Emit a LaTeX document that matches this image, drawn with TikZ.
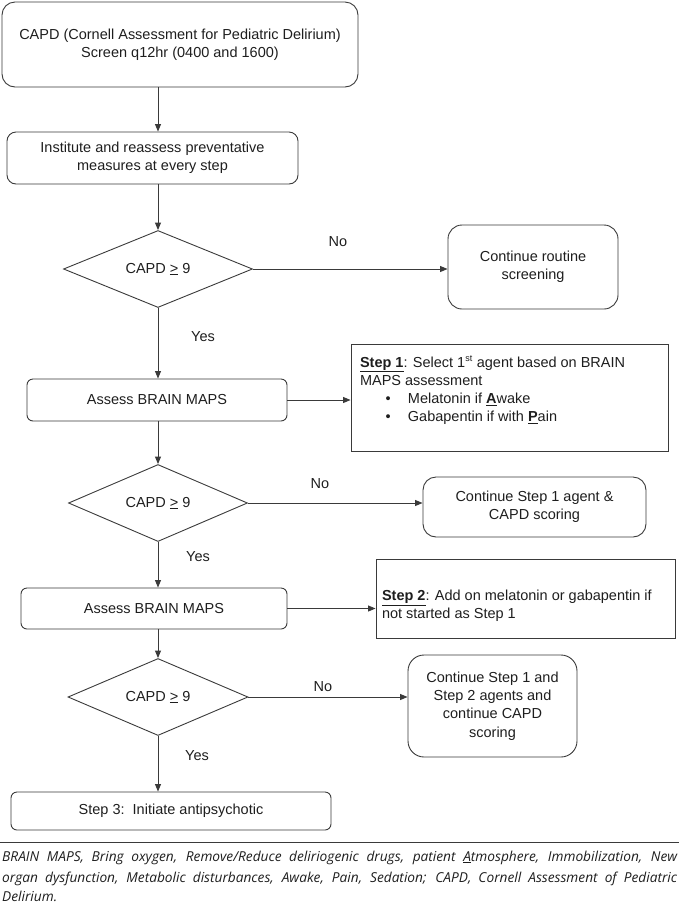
\documentclass[tikz,border=0pt]{standalone}
\usepackage{fontspec}
\setmainfont{Liberation Sans}
\newfontfamily\capfont{Open Sans}
\usetikzlibrary{shapes.geometric,arrows.meta}
\newcommand\mysz{\fontsize{14.5}{18.3}\selectfont}
\newcommand\capsz{\fontsize{13.7}{21}\selectfont}
\definecolor{linec}{HTML}{3A3A3A}
\definecolor{txtc}{HTML}{1E1E1E}
\begin{document}
\begin{tikzpicture}[x=1pt,y=-1pt,
  every node/.style={text=txtc},
  rbox/.style={draw=linec, line width=0.9pt, align=center, inner sep=0pt, font=\mysz},
  sbox/.style={draw=linec, line width=0.9pt, inner sep=0pt, font=\mysz, anchor=center},
  dia/.style={draw=linec, line width=0.9pt, diamond, inner sep=0pt, font=\mysz},
  lbl/.style={font=\mysz, inner sep=0pt},
  arr/.style={draw=linec, line width=0.9pt, -{Triangle[length=7.5pt,width=6pt]}}
]
\useasboundingbox (0,0) rectangle (679,906);

% main column
\node[rbox, rounded corners=13pt, minimum width=356pt, minimum height=85pt] (top) at (180,44.5)
  {CAPD (Cornell Assessment for Pediatric Delirium)\\Screen q12hr (0400 and 1600)};
\node[rbox, rounded corners=9pt, minimum width=291pt, minimum height=52pt] (prev) at (152.5,158)
  {Institute and reassess preventative\\measures at every step};
\node[dia, minimum width=189pt, minimum height=75pt] (d1) at (158,269) {CAPD \underline{>} 9};
\node[rbox, rounded corners=6pt, minimum width=260pt, minimum height=42pt] (as1) at (157,400) {Assess BRAIN MAPS};
\node[dia, minimum width=179pt, minimum height=71pt] (d2) at (158,503) {CAPD \underline{>} 9};
\node[rbox, rounded corners=6pt, minimum width=266pt, minimum height=41pt] (as2) at (154,608.5) {Assess BRAIN MAPS};
\node[dia, minimum width=180pt, minimum height=71pt] (d3) at (158,697) {CAPD \underline{>} 9};
\node[rbox, rounded corners=6pt, minimum width=320pt, minimum height=38pt] (s3) at (171,811) {Step 3:\ \ Initiate antipsychotic};

% right column
\node[rbox, rounded corners=14pt, minimum width=170pt, minimum height=84pt] (c1) at (533,267)
  {Continue routine\\screening};
\node[sbox, minimum width=317pt, minimum height=107pt] (s1) at (509.5,397.5)
  {\parbox[c][107pt][t]{299pt}{\vspace*{12pt}%
   \textbf{\underline{Step 1}}: Select 1\textsuperscript{\fontsize{9}{9}\selectfont st} agent based on BRAIN\\
   MAPS assessment\\
   \hspace*{25.5pt}\textbullet\hspace*{17.4pt}Melatonin if \textbf{\underline{A}}wake\\
   \hspace*{25.5pt}\textbullet\hspace*{17.4pt}Gabapentin if with \textbf{\underline{P}}ain}};
\node[rbox, rounded corners=13pt, minimum width=223pt, minimum height=60pt] (c2) at (534.5,507)
  {Continue Step 1 agent \&\\CAPD scoring};
\node[sbox, minimum width=299pt, minimum height=79pt] (s2) at (525.5,598.5)
  {\parbox[c][79pt][t]{287pt}{\vspace*{31pt}%
   \textbf{\underline{Step 2}}: Add on melatonin or gabapentin if\\
   not started as Step 1}};
\node[rbox, rounded corners=16pt, minimum width=169pt, minimum height=102pt] (c3) at (492.5,706)
  {Continue Step 1 and\\Step 2 agents and\\continue CAPD\\scoring};

% connectors
\draw[arr] (top.south -| d1.north) -- (prev.north -| d1.north);
\draw[arr] (prev.south -| d1.north) -- (d1.north);
\draw[arr] (d1.east) -- (d1.east -| c1.west);
\draw[arr] (d1.south) -- (d1.south |- as1.north);
\draw[arr] (as1.east) -- (as1.east -| s1.west);
\draw[arr] (as1.south -| d2.north) -- (d2.north);
\draw[arr] (d2.east) -- (d2.east -| c2.west);
\draw[arr] (d2.south) -- (d2.south |- as2.north);
\draw[arr] (as2.east) -- (as2.east -| s2.west);
\draw[arr] (as2.south -| d3.north) -- (d3.north);
\draw[arr] (d3.east) -- (d3.east -| c3.west);
\draw[arr] (d3.south) -- (d3.south |- s3.north);

% labels
\node[lbl] (no1) at (338,242) {No};
\node[lbl] (yes1) at (203,337) {Yes};
\node[lbl] (no2) at (320,484) {No};
\node[lbl] (yes2) at (198,557) {Yes};
\node[lbl] (no3) at (323,687) {No};
\node[lbl] (yes3) at (197,756) {Yes};

% caption
\coordinate (rl) at (0,842);
\coordinate (rr) at (679,842);
\draw[draw=linec, line width=1pt] (rl) -- (rr);
\node[anchor=base west, inner sep=0pt, font=\capfont\itshape\capsz] (cap1) at (2,861)
  {\hbox to 675pt{BRAIN MAPS, Bring oxygen, Remove/Reduce deliriogenic drugs, patient \underline{A}tmosphere, Immobilization, New}};
\node[anchor=base west, inner sep=0pt, font=\capfont\itshape\capsz] (cap2) at (2,882)
  {\hbox to 675pt{organ dysfunction, Metabolic disturbances, Awake, Pain, Sedation; CAPD, Cornell Assessment of Pediatric}};
\node[anchor=base west, inner sep=0pt, font=\capfont\itshape\capsz] (cap3) at (2,901) {Delirium.};
\end{tikzpicture}
\end{document}
